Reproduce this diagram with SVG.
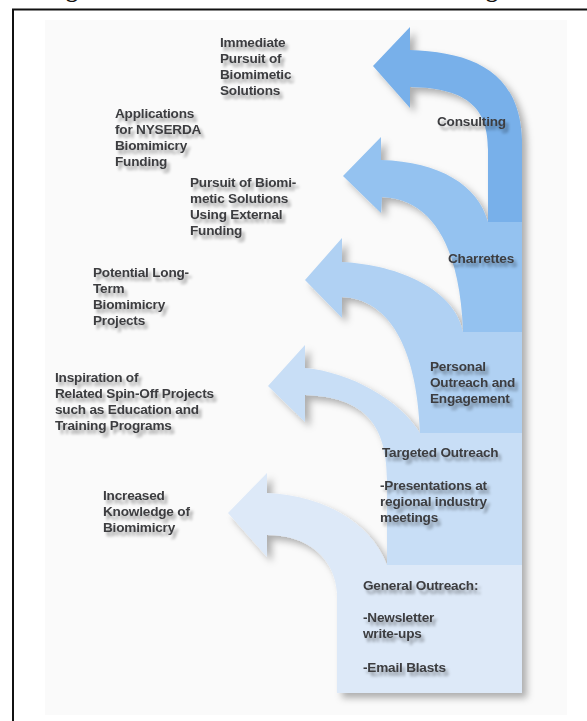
<svg xmlns="http://www.w3.org/2000/svg" width="587" height="721" viewBox="0 0 587 721">
  <defs>
    <filter id="shapeShadow" x="-10%" y="-10%" width="130%" height="130%">
      <feDropShadow dx="5" dy="5" stdDeviation="3.5" flood-color="#000" flood-opacity="0.3"/>
    </filter>
    <filter id="textShadow" x="-10%" y="-30%" width="130%" height="180%">
      <feDropShadow dx="3" dy="4" stdDeviation="1.8" flood-color="#000" flood-opacity="0.35"/>
    </filter>
  </defs>
  <style>
    .lbl { font-family: "Liberation Sans", Arial, sans-serif; font-weight: bold; font-size: 13.6px; fill: #3c3d40; letter-spacing: -0.2px; filter: url(#textShadow); }
    .ttl { font-family: "Liberation Serif", "Times New Roman", serif; font-weight: bold; font-size: 24px; fill: #111; }
    .frame { stroke: #111; stroke-width: 2; fill: none; }
  </style>

  <rect width="587" height="721" fill="#ffffff"/>
  <!-- caption line above the frame (only its descenders fall inside the view) -->
  <text class="ttl" x="66" y="-3">g</text>
  <text class="ttl" x="486" y="-3">g</text>

  <!-- frame -->
  <path class="frame" d="M13,721 V9.5 H587"/>

  <!-- panel -->
  <rect x="45" y="20" width="522" height="695" fill="#fafafa"/>

  <!-- stacked outreach levels, highest first so lower levels sit on top;
       one shared drop shadow for the whole stack -->
  <g id="connectors" filter="url(#shapeShadow)">
    <g id="level-consulting">
      <path fill="#78b0ea" d="M373,66 L410,27 L410,50 C470,52 520,70 522,140 L522,693 L488,693 L488,150 C488,110 470,88 410,87 L410,108 Z"/>
    </g>
    <g id="level-charrettes">
      <path fill="#94c2f0" d="M343,176 L381,137 L381,160 C440,162 478,185 488,222 L522,222 L522,693 L463,693 L463,330 C460,260 440,200 382,197 L381,213 Z"/>
    </g>
    <g id="level-personal">
      <path fill="#b0d1f3" d="M305,280 L342,238 L342,262 C400,265 455,290 463,332 L522,332 L522,693 L420,693 L420,433 C418,370 400,300 342,297 L342,318 Z"/>
    </g>
    <g id="level-targeted">
      <path fill="#c8def6" d="M268,386 L305,345 L305,368 C350,372 400,400 420,433 L522,433 L522,693 L387,693 L387,480 C387,420 360,397 305,395 L305,422 Z"/>
    </g>
    <g id="level-general">
      <path fill="#dde9f8" d="M228,513 L267,473 L267,493 C320,495 370,520 387,565 L522,565 L522,693 L337,693 L337,593 C335,560 310,535 267,535 L267,557 Z"/>
    </g>
  </g>

  <!-- outcome labels -->
  <g id="node-immediate">
    <text class="lbl" x="220" y="47">Immediate</text>
    <text class="lbl" x="220" y="63">Pursuit of</text>
    <text class="lbl" x="220" y="79">Biomimetic</text>
    <text class="lbl" x="220" y="95">Solutions</text>
  </g>
  <g id="node-applications">
    <text class="lbl" x="115" y="118">Applications</text>
    <text class="lbl" x="115" y="134">for NYSERDA</text>
    <text class="lbl" x="115" y="150">Biomimicry</text>
    <text class="lbl" x="115" y="166">Funding</text>
  </g>
  <g id="node-external">
    <text class="lbl" x="190" y="187">Pursuit of Biomi-</text>
    <text class="lbl" x="190" y="203">metic Solutions</text>
    <text class="lbl" x="190" y="219">Using External</text>
    <text class="lbl" x="190" y="235">Funding</text>
  </g>
  <g id="node-longterm">
    <text class="lbl" x="93" y="277">Potential Long-</text>
    <text class="lbl" x="93" y="293">Term</text>
    <text class="lbl" x="93" y="309">Biomimicry</text>
    <text class="lbl" x="93" y="325">Projects</text>
  </g>
  <g id="node-spinoff">
    <text class="lbl" x="55" y="382">Inspiration of</text>
    <text class="lbl" x="55" y="398">Related Spin-Off Projects</text>
    <text class="lbl" x="55" y="414">such as Education and</text>
    <text class="lbl" x="55" y="430">Training Programs</text>
  </g>
  <g id="node-knowledge">
    <text class="lbl" x="103" y="500">Increased</text>
    <text class="lbl" x="103" y="516">Knowledge of</text>
    <text class="lbl" x="103" y="532">Biomimicry</text>
  </g>

  <!-- activity labels on the column -->
  <g id="node-consulting">
    <text class="lbl" x="437" y="126">Consulting</text>
  </g>
  <g id="node-charrettes">
    <text class="lbl" x="448" y="263">Charrettes</text>
  </g>
  <g id="node-personal">
    <text class="lbl" x="430" y="371">Personal</text>
    <text class="lbl" x="430" y="387">Outreach and</text>
    <text class="lbl" x="430" y="403">Engagement</text>
  </g>
  <g id="node-targeted">
    <text class="lbl" x="382" y="457">Targeted Outreach</text>
    <text class="lbl" x="380" y="490">-Presentations at</text>
    <text class="lbl" x="380" y="506">regional industry</text>
    <text class="lbl" x="380" y="522">meetings</text>
  </g>
  <g id="node-general">
    <text class="lbl" x="363" y="590">General Outreach:</text>
    <text class="lbl" x="363" y="622">-Newsletter</text>
    <text class="lbl" x="363" y="638">write-ups</text>
    <text class="lbl" x="363" y="672">-Email Blasts</text>
  </g>
</svg>
